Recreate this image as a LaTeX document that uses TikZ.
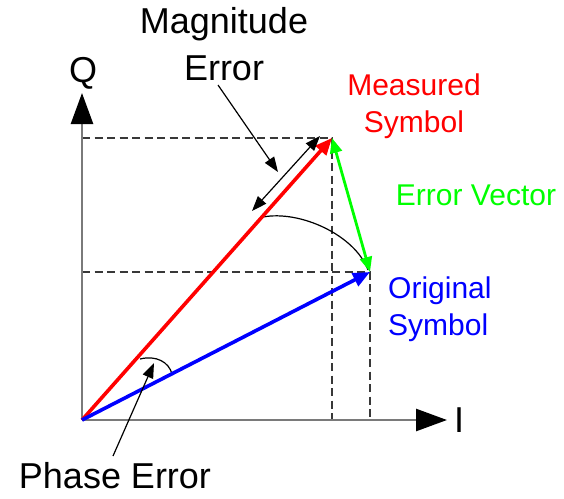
\documentclass[tikz,border=0pt]{standalone}
\usepackage{fontspec}
\setmainfont{Liberation Sans}
\usetikzlibrary{arrows.meta}
\definecolor{vred}{HTML}{FF0000}
\definecolor{vgreen}{HTML}{00FF00}
\definecolor{vblue}{HTML}{0000FF}
\definecolor{axisgray}{HTML}{7A7A7A}
\definecolor{dashgray}{HTML}{383838}
\begin{document}
\begin{tikzpicture}[x=1pt,y=-1pt,
  axis/.style={draw=axisgray,line width=2.6pt,-{Triangle[length=31pt,width=22pt,color=black]}},
  guide/.style={draw=dashgray,line width=2pt,dash pattern=on 8pt off 4.5pt},
  vec/.style={line width=3.6pt,-{Triangle[length=17pt,width=14pt]}},
  errvec/.style={draw=vgreen,line width=2.8pt,{Triangle[length=15pt,width=12pt]}-{Triangle[length=15pt,width=12pt]}},
  pointer/.style={draw=black,line width=1.2pt,-{Triangle[length=15pt,width=11pt]}},
  dimline/.style={draw=black,line width=1.2pt,{Triangle[length=15pt,width=11pt]}-{Triangle[length=15pt,width=11pt]}},
  arcline/.style={draw=black,line width=1.2pt},
  biglabel/.style={font=\fontsize{36}{47}\selectfont,align=center,anchor=base,inner sep=0pt},
  collabel/.style={font=\fontsize{30}{37}\selectfont,anchor=base,inner sep=0pt}
]
\useasboundingbox (0,0) rectangle (564,498);
\coordinate (O) at (82,420);
\coordinate (M) at (332,138);
\coordinate (S) at (370,272);
\coordinate (Iend) at (447,420);
\coordinate (Qend) at (82,93);
\coordinate (MQ) at (82,138);
\coordinate (SQ) at (82,272);
\coordinate (MI) at (332,420);
\coordinate (SI) at (370,420);
% guides
\draw[guide] (MQ) -- (M) -- (MI);
\draw[guide] (SQ) -- (S) -- (SI);
% axes
\draw[axis] (O) -- (Iend);
\draw[axis] (O) -- (Qend);
\node[font=\fontsize{36}{40}\selectfont,anchor=base,inner sep=0pt] (Qlabel) at (83,82) {Q};
\node[font=\fontsize{36}{40}\selectfont,anchor=base,inner sep=0pt] (Ilabel) at (459,432) {I};
% magnitude arc
\coordinate (arcA) at (263,217);
\coordinate (arcB) at (368,270);
\draw[arcline] (arcA) .. controls (300,210) and (355,235) .. (arcB);
% phase arc
\coordinate (phA) at (140,359);
\coordinate (phB) at (172,374);
\draw[arcline] (phA) .. controls (156,355) and (169,362) .. (phB);
% vectors
\draw[vec,vred] (O) -- (M);
\draw[vec,vblue] (O) -- (S);
\draw[errvec] (M) -- (S);
% magnitude error dimension
\coordinate (dA) at (252,211);
\coordinate (dB) at (320,136);
\draw[dimline] (dA) -- (dB);
% labels
\node[biglabel] (mag) at (224,80) {Magnitude\\Error};
\coordinate (magP) at (218,85);
\coordinate (magT) at (278,172);
\draw[pointer] (magP) -- (magT);
\node[biglabel] (phase) at (115,488) {Phase Error};
\coordinate (phP) at (113,456);
\coordinate (phT) at (154,363);
\draw[pointer] (phP) -- (phT);
\node[collabel,text=vred,align=center] (meas) at (414,132) {Measured\\Symbol};
\node[collabel,text=vgreen] (ev) at (476,205) {Error Vector};
\node[collabel,text=vblue,align=left,anchor=base west] (orig) at (388,335) {Original\\Symbol};
\end{tikzpicture}
\end{document}
